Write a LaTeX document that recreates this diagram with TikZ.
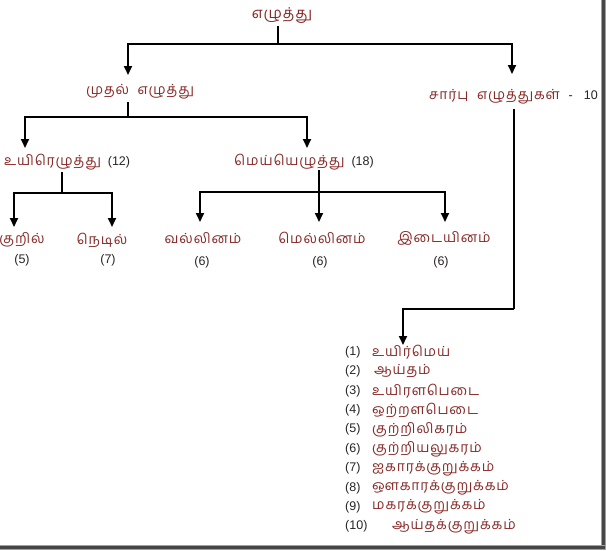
\documentclass[tikz,border=0pt]{standalone}
\usepackage{fontspec}
\setmainfont{Liberation Sans}
\newfontfamily\tamil[Script=Tamil,LetterSpace=6]{Hind Madurai}
\newfontfamily\numf{Liberation Sans}
\usetikzlibrary{arrows.meta}
\definecolor{tcol}{RGB}{135,42,40}
\definecolor{ncol}{RGB}{40,36,36}
\definecolor{framedark}{RGB}{70,70,70}
\definecolor{framelight}{RGB}{160,160,160}
\tikzset{
  ta/.style={inner sep=0pt, text=tcol, font=\tamil\fontsize{14}{16}\selectfont},
  nu/.style={inner sep=0pt, text=ncol, font=\numf\fontsize{12.5}{14}\selectfont},
  ln/.style={line width=1.7pt, draw=black},
  arr/.style={ln, -{Triangle[length=9pt,width=8pt]}},
}
\newcommand{\nm}[1]{{\color{ncol}\numf\fontsize{12.5}{14}\selectfont #1}}
\begin{document}
\begin{tikzpicture}[x=1pt,y=-1pt]
\useasboundingbox (0,0) rectangle (606,550);
\fill[white] (0,0) rectangle (606,550);
% frame
\fill[framelight] (600.5,0) rectangle (606,550);
\fill[framedark] (602,0) rectangle (605,549);
\fill[framelight] (0,544.5) rectangle (606,550);
\fill[framedark] (0,546) rectangle (605,549);

% nodes
\node[ta, font=\tamil\fontsize{15}{17}\selectfont] (root) at (282,16) {எழுத்து};
\node[ta] (mudhal) at (140,92) {முதல்\ \ எழுத்து};
\node[ta, anchor=east] (sarbu) at (598,97) {சார்பு\ \ எழுத்துகள்\hspace{9pt}\nm{-\hspace{11pt}10}};
\node[ta, anchor=west] (uyir) at (4,162) {உயிரெழுத்து\hspace{7pt}\nm{(12)}};
\node[ta] (mei) at (304,162) {மெய்யெழுத்து\hspace{7pt}\nm{(18)}};
\node[ta] (kuril) at (22,240) {குறில்};
\node[nu] (kurilN) at (22,260) {(5)};
\node[ta] (nedil) at (102,240) {நெடில்};
\node[nu] (nedilN) at (108,260) {(7)};
\node[ta] (val) at (203,238) {வல்லினம்};
\node[nu] (valN) at (202,262) {(6)};
\node[ta] (mel) at (322,238) {மெல்லினம்};
\node[nu] (melN) at (320,262) {(6)};
\node[ta] (idai) at (444,238) {இடையினம்};
\node[nu] (idaiN) at (441,262) {(6)};

% list
\foreach \i/\t/\xo in {1/உயிர்மெய்/372,2/ஆய்தம்/374,3/உயிரளபெடை/372,4/ஒற்றளபெடை/372,5/குற்றிலிகரம்/372,6/குற்றியலுகரம்/372,7/ஐகாரக்குறுக்கம்/372,8/ஔகாரக்குறுக்கம்/372,9/மகரக்குறுக்கம்/372,10/ஆய்தக்குறுக்கம்/392}{
  \node[nu, anchor=west] (n\i) at (345,{352+19.4*(\i-1)}) {(\i)};
  \node[ta, anchor=west] (l\i) at (\xo,{352+19.4*(\i-1)}) {\t};
}

% junctions and arrow tips
\coordinate (j0) at (278,44);
\coordinate (tMudhal) at (128,75);
\coordinate (tSarbu) at (512,74);
\coordinate (j1) at (128,117);
\coordinate (tUyir) at (25,148);
\coordinate (tMei) at (307,148);
\coordinate (j2) at (62,193);
\coordinate (tKuril) at (14,227);
\coordinate (tNedil) at (112,227);
\coordinate (j3) at (319,192);
\coordinate (tVal) at (200,222);
\coordinate (tMel) at (319,222);
\coordinate (tIdai) at (445,222);
\coordinate (j4) at (514,309);
\coordinate (tList) at (403,345);

% connectors
\draw[ln] (root.south -| j0) ++(0,2) -- (j0);
\draw[arr] (j0) -| (tMudhal);
\draw[arr] (j0) -| (tSarbu);
\draw[ln] (mudhal.south -| j1) ++(0,2) -- (j1);
\draw[arr] (j1) -| (tUyir);
\draw[arr] (j1) -| (tMei);
\draw[ln] (uyir.south -| j2) ++(0,2) -- (j2);
\draw[arr] (j2) -| (tKuril);
\draw[arr] (j2) -| (tNedil);
\draw[ln] (mei.south -| j3) -- (j3);
\draw[arr] (j3) -| (tVal);
\draw[arr] (j3) -- (tMel);
\draw[arr] (j3) -| (tIdai);
\draw[ln] (sarbu.south -| j4) ++(0,4) -- (j4);
\draw[arr] (j4) -| (tList);
\end{tikzpicture}
\end{document}
